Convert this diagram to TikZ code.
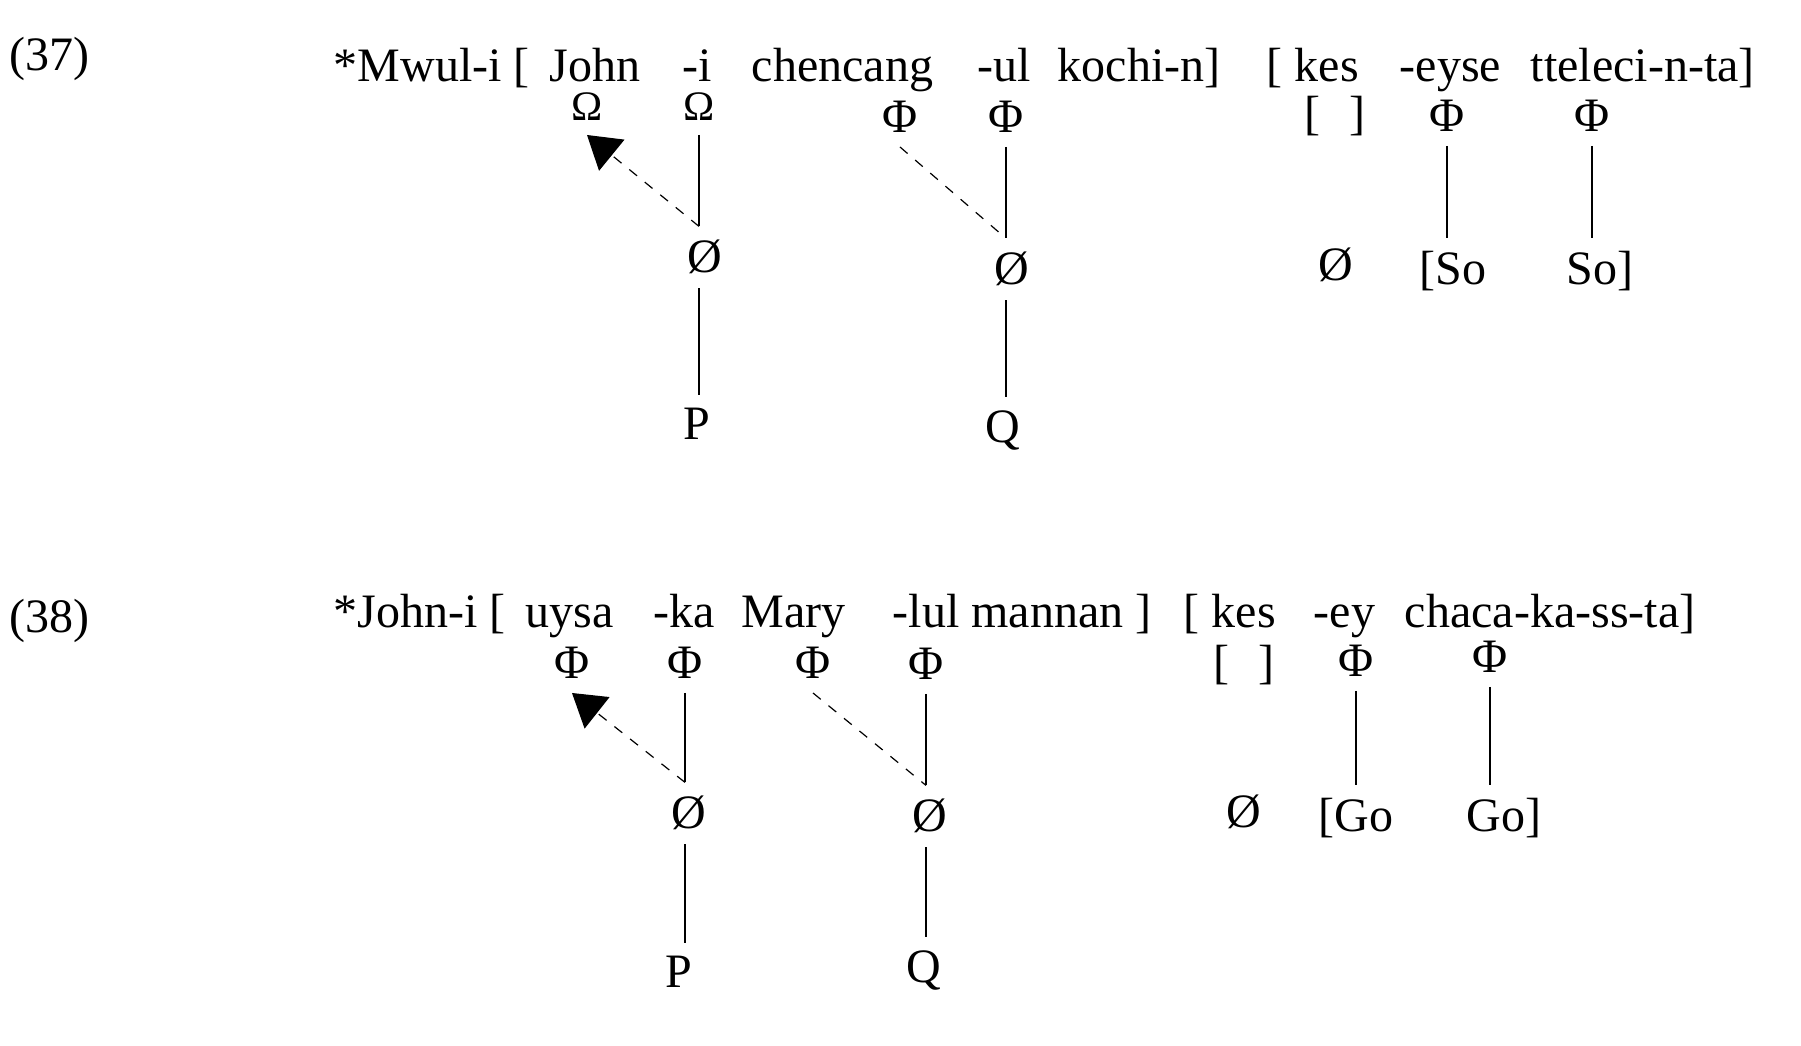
\documentclass[tikz,border=0pt]{standalone}
\usepackage{fontspec}
\setmainfont{Liberation Serif}
\usepackage{tikz}
\usetikzlibrary{arrows.meta}
\usetikzlibrary{calc}

\tikzset{
  word/.style={anchor=base west,inner sep=0pt},
  sym/.style={anchor=base,inner sep=0pt,outer sep=3.5pt},
  omega/.style={sym,font=\fontsize{10.5pt}{12pt}\selectfont},
  tie/.style={line width=0.35pt},
  move/.style={line width=0.3pt,dash pattern=on 2.5pt off 2.5pt}
}

\begin{document}
\begin{tikzpicture}[x=0.25pt,y=-0.25pt,font=\fontsize{12pt}{14pt}\selectfont,>={Triangle[length=8pt,width=10pt]}]
			\useasboundingbox(0,0)rectangle(1801,1046);
			\node[word](ex37)at(9,71){(37)};
			\node[word](aw1)at(333,82){*Mwul-i [};
			\node[word](aw2)at(549,82){John};
			\node[word](aw3)at(682,82){-i};
			\node[word](aw4)at(751,82){chencang};
			\node[word](aw5)at(977,82){-ul};
			\node[word](aw6)at(1057,82){kochi-n]};
			\node[word](aw7)at(1266,82){[ kes};
			\node[word](aw8)at(1399,82){-eyse};
			\node[word](aw9)at(1530,82){tteleci-n-ta]};
			\node[omega](aO1)at(587,121){Ω};
			\node[omega](aO2)at(699,121){Ω};
			\node[sym](aF1)at(900,133){Φ};
			\node[sym](aF2)at(1006,133){Φ};
			\node[sym](aB)at(1335,130){[\hspace{0.6em}]};
			\node[sym](aF3)at(1447,132){Φ};
			\node[sym](aF4)at(1592,132){Φ};
			\node[sym](aZ1)at(705,273){Ø};
			\node[sym](aZ2)at(1012,285){Ø};
			\node[sym](aZ3)at(1336,281){Ø};
			\node[sym](aS1)at(1453,285){[So};
			\node[sym](aS2)at(1600,285){So]};
			\node[sym](aP)at(697,440){P};
			\node[sym](aQ)at(1003,443){Q};
			\draw[tie](aO2.south)--(aO2.south|-aZ1.north)coordinate(aJ1);
			\draw[move,->](aJ1)--(aO1.south);
			\draw[tie](aF2.south)--(aF2.south|-aZ2.north)coordinate(aJ2);
			\draw[move](aF1.south)--(aJ2);
			\draw[tie](aO2.south|-aZ1.south)--(aO2.south|-aP.north);
			\draw[tie](aF2.south|-aZ2.south)--(aF2.south|-aQ.north);
			\draw[tie](aF3.south)--(aF3.south|-aS1.north);
			\draw[tie](aF4.south)--(aF4.south|-aS2.north);
			\node[word](ex38)at(9,633){(38)};
			\node[word](bw1)at(333,628){*John-i [};
			\node[word](bw2)at(525,628){uysa};
			\node[word](bw3)at(653,628){-ka};
			\node[word](bw4)at(741,628){Mary};
			\node[word](bw5)at(892,628){-lul mannan ]};
			\node[word](bw6)at(1183,628){[ kes};
			\node[word](bw7)at(1313,628){-ey};
			\node[word](bw8)at(1404,628){chaca-ka-ss-ta]};
			\node[sym](bF1)at(572,679){Φ};
			\node[sym](bF2)at(685,679){Φ};
			\node[sym](bF3)at(813,679){Φ};
			\node[sym](bF4)at(926,680){Φ};
			\node[sym](bB)at(1244,679){[\hspace{0.6em}]};
			\node[sym](bF5)at(1356,677){Φ};
			\node[sym](bF6)at(1490,673){Φ};
			\node[sym](bZ1)at(689,829){Ø};
			\node[sym](bZ2)at(930,832){Ø};
			\node[sym](bZ3)at(1244,828){Ø};
			\node[sym](bG1)at(1356,832){[Go};
			\node[sym](bG2)at(1504,832){Go]};
			\node[sym](bP)at(679,988){P};
			\node[sym](bQ)at(924,983){Q};
			\draw[tie](bF2.south)--(bF2.south|-bZ1.north)coordinate(bJ1);
			\draw[move,->](bJ1)--(bF1.south);
			\draw[tie](bF4.south)--(bF4.south|-bZ2.north)coordinate(bJ2);
			\draw[move](bF3.south)--(bJ2);
			\draw[tie](bF2.south|-bZ1.south)--(bF2.south|-bP.north);
			\draw[tie](bF4.south|-bZ2.south)--(bF4.south|-bQ.north);
			\draw[tie](bF5.south)--(bF5.south|-bG1.north);
			\draw[tie](bF6.south)--(bF6.south|-bG2.north);
		\end{tikzpicture}
\end{document}
